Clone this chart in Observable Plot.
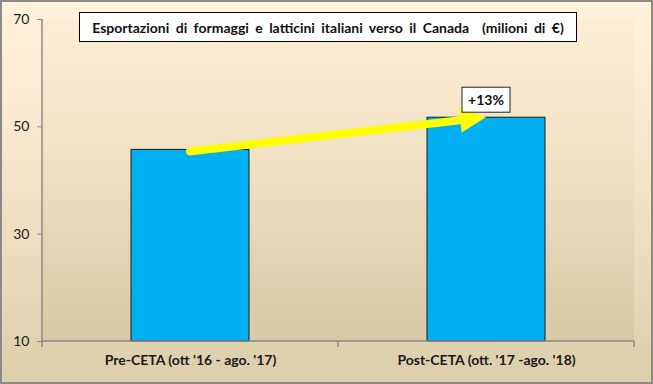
<!DOCTYPE html>
<html>
<head>
<meta charset="utf-8">
<script src="https://cdn.jsdelivr.net/npm/d3@7"></script>
<script src="https://cdn.jsdelivr.net/npm/@observablehq/plot@0.6"></script>
<style>
  html, body { margin: 0; padding: 0; background: #ffffff; }
  #wrap { position: relative; width: 653px; height: 384px; }
  #wrap svg.chart {
    display: block;
    background: linear-gradient(to bottom, #FFF2DA 0%, #F6E7CB 40%, #DBCEAA 100%);
    outline: 2px solid #8a8a8a;
    outline-offset: -2px;
  }
  #title {
    position: absolute; left: 79px; top: 12px; width: 496px; height: 28px;
    border: 1px solid #000; background: #fff;
    font: bold 14px Lato, sans-serif; color: #111;
    word-spacing: 3px;
    display: flex; align-items: center; justify-content: center;
    white-space: pre;
  }
  g[aria-label="y-axis tick"] { stroke: #8a8a8a; }
  g[aria-label="x-axis tick label"] { font-weight: bold; font-size: 14px; }
</style>
</head>
<body>
<div id="wrap"></div>
<script>
const categories = ["Pre-CETA (ott '16 - ago. '17)", "Post-CETA (ott. '17 -ago. '18)"];
const values = [45.7, 51.7];
const yTicks = [10, 30, 50, 70];
const yMin = 10;
const yMax = 70;
const changeLabel = "+13%";
const titleText = "Esportazioni di formaggi e latticini italiani verso il Canada  (milioni di €)";

const data = categories.map((c, i) => ({category: c, value: values[i]}));

function plotBackground(index, scales, vals, dim) {
  const g = d3.create("svg:g");
  const defs = g.append("defs");
  const lg = defs.append("linearGradient").attr("id", "plotAreaGrad")
    .attr("x1", 0).attr("y1", 0).attr("x2", 0).attr("y2", 1);
  lg.append("stop").attr("offset", "0%").attr("stop-color", "#FBEDD3");
  lg.append("stop").attr("offset", "40%").attr("stop-color", "#F2E3C6");
  lg.append("stop").attr("offset", "100%").attr("stop-color", "#D6C9A4");
  g.append("rect")
    .attr("x", dim.marginLeft).attr("y", dim.marginTop)
    .attr("width", dim.width - dim.marginLeft - dim.marginRight)
    .attr("height", dim.height - dim.marginTop - dim.marginBottom)
    .attr("fill", "url(#plotAreaGrad)");
  return g.node();
}

function axisLines(index, scales, vals, dim) {
  const g = d3.create("svg:g").attr("stroke", "#8a8a8a").attr("stroke-width", 1.5).attr("fill", "none");
  const x = scales.x, y = scales.y;
  const bw = x.bandwidth(), step = x.step();
  const yb = y(yMin), yt = y(yMax);
  const x0 = dim.marginLeft, x1 = dim.width - dim.marginRight;
  g.append("line").attr("x1", x0).attr("x2", x0).attr("y1", yt).attr("y2", yb);
  g.append("line").attr("x1", x0).attr("x2", x1).attr("y1", yb).attr("y2", yb);
  const bounds = categories.map(c => x(c) - (step - bw) / 2);
  bounds.push(x(categories[categories.length - 1]) + bw + (step - bw) / 2);
  for (const b of bounds) {
    g.append("line").attr("x1", b).attr("x2", b).attr("y1", yb).attr("y2", yb + 6);
  }
  return g.node();
}

function changeArrow(index, scales, vals, dim) {
  const x = scales.x, y = scales.y;
  const bw = x.bandwidth();
  const ax = x(categories[0]) + bw / 2, ay = y(values[0]) + 2;
  const bx = x(categories[1]) + bw / 2, by = y(values[1]);
  const g = d3.create("svg:g");
  const dx = bx - ax, dy = by - ay;
  const len = Math.hypot(dx, dy);
  const ux = dx / len, uy = dy / len;
  const nx = -uy, ny = ux;
  const headLen = 26, headHalf = 12.5;
  const hx = bx - ux * headLen, hy = by - uy * headLen;
  g.append("line")
    .attr("x1", ax).attr("y1", ay).attr("x2", hx + ux * 2).attr("y2", hy + uy * 2)
    .attr("stroke", "#FFFF00").attr("stroke-width", 8).attr("stroke-linecap", "round");
  g.append("path")
    .attr("d", `M${bx},${by}L${hx + nx * headHalf},${hy + ny * headHalf}L${hx - nx * headHalf},${hy - ny * headHalf}Z`)
    .attr("fill", "#FFFF00");
  const lx = bx, ly = by - 5;
  g.append("rect")
    .attr("x", lx - 24).attr("y", ly - 25).attr("width", 48).attr("height", 25)
    .attr("fill", "#fff").attr("stroke", "#222").attr("stroke-width", 1);
  g.append("text")
    .attr("x", lx).attr("y", ly - 12.5).attr("dy", "0.35em")
    .attr("text-anchor", "middle")
    .attr("font-family", "Lato, sans-serif").attr("font-weight", "bold").attr("font-size", 14)
    .attr("fill", "#111")
    .text(changeLabel);
  return g.node();
}

const chart = Plot.plot({
  width: 653,
  height: 384,
  marginLeft: 42,
  marginRight: 19,
  marginTop: 19,
  marginBottom: 43,
  style: {fontFamily: "Lato, sans-serif", fontSize: "14px", color: "#1a1a1a", background: "none", overflow: "visible"},
  x: {domain: categories, paddingInner: 0.6, paddingOuter: 0.3, tickSize: 0, tickPadding: 14, label: null},
  y: {domain: [yMin, yMax], ticks: yTicks, tickSize: 5, tickPadding: 8, label: null},
  marks: [
    plotBackground,
    Plot.barY(data, {x: "category", y1: yMin, y2: "value", fill: "#00B0F0", stroke: "#1a1a1a", strokeWidth: 1}),
    axisLines,
    changeArrow
  ]
});
chart.classList.add("chart");
chart.style.background = "";
const wrap = document.getElementById("wrap");
wrap.appendChild(chart);
const t = document.createElement("div");
t.id = "title";
t.textContent = titleText;
wrap.appendChild(t);
</script>
</body>
</html>
